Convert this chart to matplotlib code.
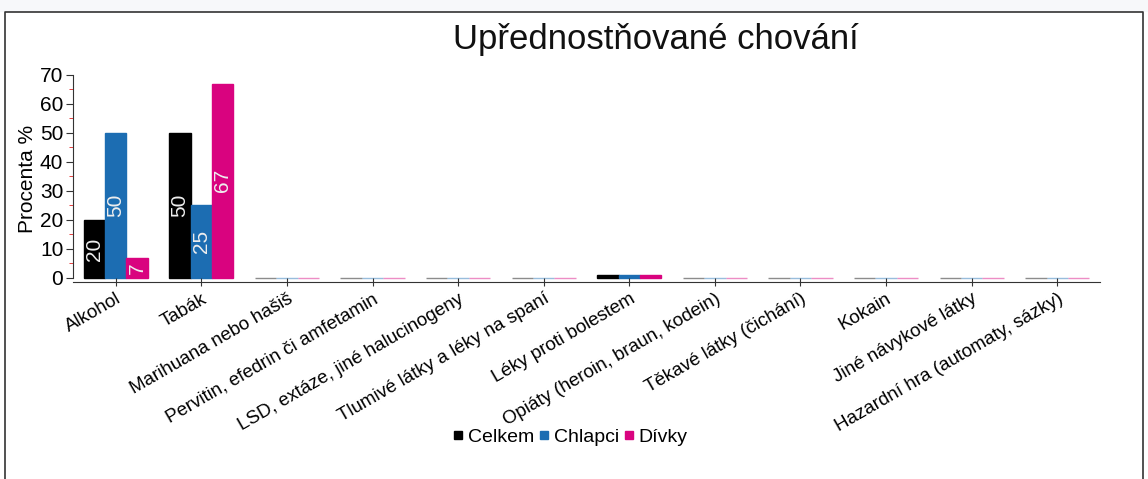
import matplotlib
matplotlib.use("Agg")
import matplotlib.pyplot as plt
from matplotlib.patches import Rectangle
from matplotlib.lines import Line2D
import numpy as np

plt.rcParams['font.family'] = ['Liberation Sans', 'DejaVu Sans']

categories = [
    'Alkohol', 'Tabák', 'Marihuana nebo hašiš', 'Pervitin, efedrin či amfetamin',
    'LSD, extáze, jiné halucinogeny', 'Tlumivé látky a léky na spaní',
    'Léky proti bolestem', 'Opiáty (heroin, braun, kodein)', 'Těkavé látky (čichání)',
    'Kokain', 'Jiné návykové látky', 'Hazardní hra (automaty, sázky)',
]
celkem = [20, 50, 0, 0, 0, 0, 1, 0, 0, 0, 0, 0]
chlapci = [50, 25, 0, 0, 0, 0, 1, 0, 0, 0, 0, 0]
divky = [7, 67, 0, 0, 0, 0, 1, 0, 0, 0, 0, 0]

series = [('Celkem', celkem, '#000000'),
          ('Chlapci', chlapci, '#1c6db2'),
          ('Dívky', divky, '#d9037f')]

fig = plt.figure(figsize=(11.48, 4.79), dpi=100)

# frame around the chart area and the grey strip above it
fig.patches.append(Rectangle((0, 1 - 12 / 479), 1, 12 / 479, transform=fig.transFigure,
                             facecolor='#f7f8fa', edgecolor='none', zorder=0))
fig.add_artist(Line2D([5 / 1148, 5 / 1148, 1143 / 1148, 1143 / 1148],
                      [0, 1 - 12 / 479, 1 - 12 / 479, 0],
                      transform=fig.transFigure, color='#333333', lw=1.2))

ax = fig.add_axes([73 / 1148, 1 - 282 / 479, 1027 / 1148, 207 / 479])

x = np.arange(len(categories))
w = 0.25
for i, (name, vals, col) in enumerate(series):
    pos = x + (i - 1) * w
    edges = [col if v > 0 else matplotlib.colors.to_rgba(col, 0.45) for v in vals]
    ax.bar(pos, vals, w, color=col, edgecolor=edges, linewidth=1, label=name)
    for p, v in zip(pos, vals):
        if v >= 5:
            ax.text(p, v / 2, str(v), rotation=90, ha='center', va='center',
                    color='#eeeeee', fontsize=15)

ax.set_xlim(-0.5, len(categories) - 0.5)
ax.set_ylim(-1.4, 70)
ax.set_yticks(range(0, 71, 10))
ax.set_yticks(range(5, 70, 10), minor=True)
ax.tick_params(axis='y', which='major', length=5, labelsize=15, pad=2, color='#333333')
ax.tick_params(axis='y', which='minor', length=3, color='#e02020')
ax.set_xticks(x)
ax.set_xticklabels(categories, rotation=30, ha='right', rotation_mode='anchor', fontsize=13.5)
ax.tick_params(axis='x', direction='inout', length=6, pad=3, color='#333333')

for s in ('top', 'right'):
    ax.spines[s].set_visible(False)
ax.spines['left'].set_bounds(0, 70)
ax.spines['left'].set_color('#333333')
ax.spines['bottom'].set_color('#333333')

ax.set_ylabel('Procenta %', fontsize=15, labelpad=2)
fig.text(656 / 1148, 1 - 40 / 479, 'Upřednostňované chování', ha='center', va='center',
         fontsize=25, color='#111111')

handles = [Line2D([], [], marker='s', linestyle='', color=c, markersize=6) for _, _, c in series]
fig.legend(handles, [n for n, _, _ in series], loc='center', ncol=3,
           bbox_to_anchor=(570 / 1148, 1 - 437 / 479), frameon=False, fontsize=14,
           handlelength=0.6, handletextpad=0.2, columnspacing=0.2)

fig.savefig('out.png', dpi=100)
